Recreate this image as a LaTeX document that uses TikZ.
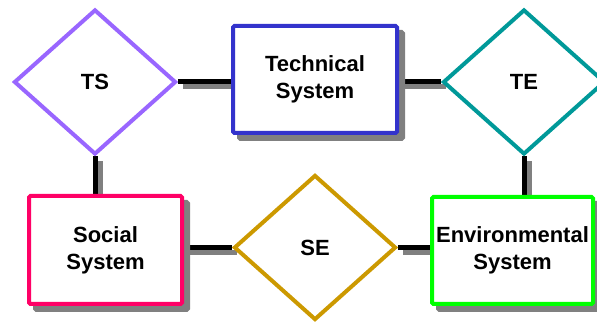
\documentclass[tikz,border=0pt]{standalone}
\usepackage{fontspec}
\setmainfont{Liberation Sans}
\usepackage{tikz}
\usetikzlibrary{shapes.geometric,backgrounds,calc}
\definecolor{tsPurple}{RGB}{153,102,255}
\definecolor{techBlue}{RGB}{51,51,204}
\definecolor{teTeal}{RGB}{0,153,153}
\definecolor{socialPink}{RGB}{255,0,102}
\definecolor{seGold}{RGB}{204,153,0}
\definecolor{envGreen}{RGB}{0,255,0}
\definecolor{npShadow}{RGB}{128,128,128}
\tikzset{
  label font/.style={font=\bfseries\fontsize{22}{27}\selectfont},
  sysbox/.style={rectangle, draw=#1, fill=white, line width=4pt, rounded corners=1.5pt,
    align=center, inner sep=0pt, label font,
    preaction={draw=npShadow, fill=npShadow, line width=4pt, transform canvas={xshift=6pt,yshift=-6pt}}},
  relation/.style={diamond, draw=#1, fill=white, line width=4pt, inner sep=0pt,
    minimum width=162pt, minimum height=145pt, label font},
  link/.style={draw=black, line width=5pt,
    preaction={draw=npShadow, line width=5pt, transform canvas={xshift=5pt,yshift=-5pt}}}
}

\begin{document}
\begin{tikzpicture}[x=1pt,y=1pt]
\useasboundingbox (0,0) rectangle (597,323);
\clip (0,0) rectangle (597,323);

\node[relation=tsPurple] (ts) at (95,241) {TS};
\node[relation=teTeal] (te) at (524,241) {TE};
\node[relation=seGold] (se) at (315,75.5) {SE};

\node[sysbox=techBlue, minimum width=164pt, minimum height=107pt] (techsys) at (315,243.5) {Technical\\System};
\node[sysbox=socialPink, minimum width=153pt, minimum height=108pt] (social) at (105.5,73) {Social\\System};
\node[sysbox=envGreen, minimum width=161pt, minimum height=107pt] (env) at (512.5,72.5) {Environmental\\System};

\begin{pgfonlayer}{background}
\draw[link] (ts.east) -- (ts.east -| techsys.west);
\draw[link] (te.west -| techsys.east) -- (te.west);
\draw[link] (ts.south) -- (ts.south |- social.north);
\draw[link] (te.south) -- (te.south |- env.north);
\draw[link] (se.west -| social.east) -- (se.west);
\draw[link] (se.east) -- (se.east -| env.west);
\end{pgfonlayer}
\end{tikzpicture}
\end{document}
